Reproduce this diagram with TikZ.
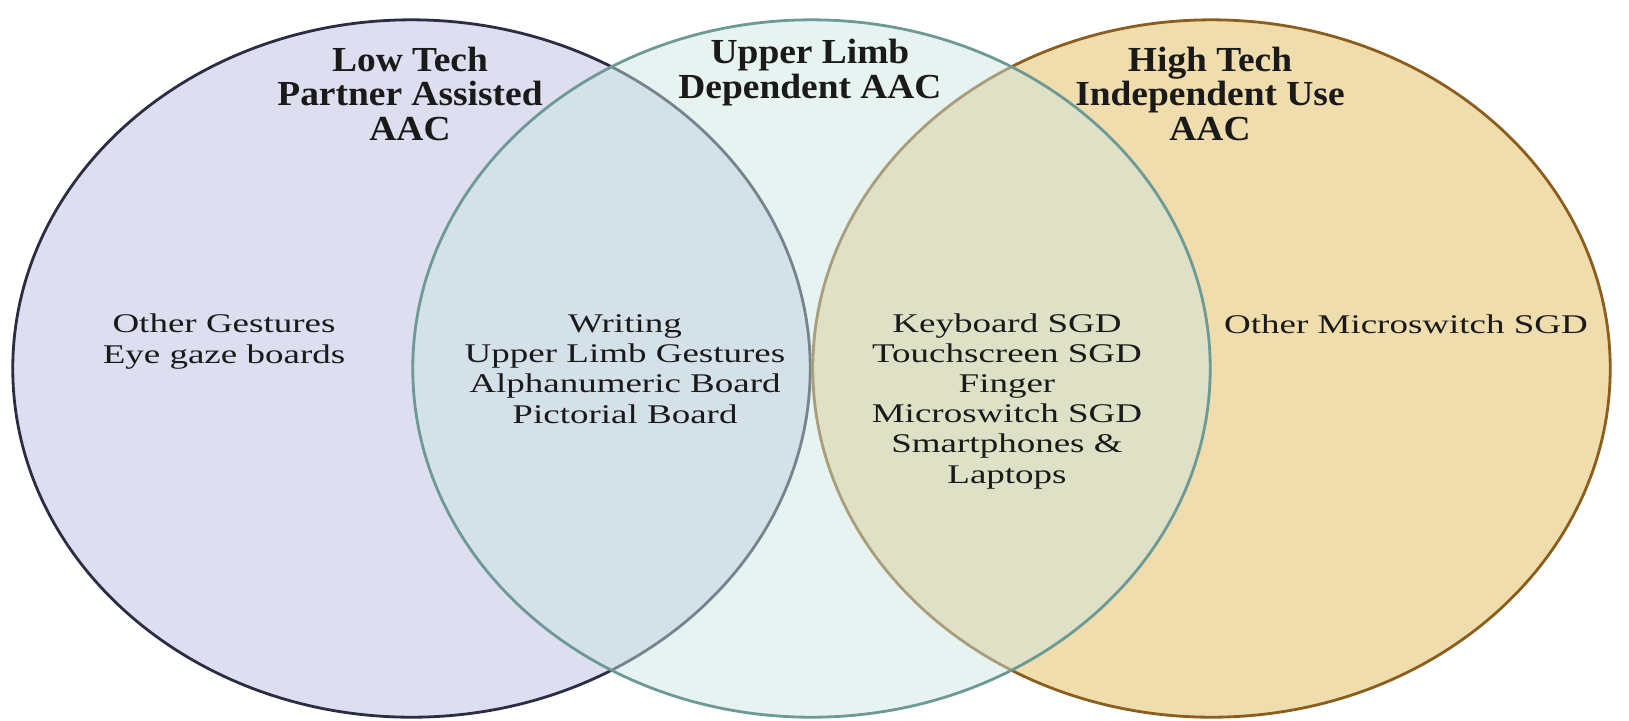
\documentclass[tikz,border=0pt]{standalone}
\usepackage{fontspec}
\setmainfont{Liberation Serif}
\newfontfamily\bodyfont[FakeStretch=1.37]{Liberation Serif}
\newfontfamily\headfont[FakeStretch=1.065]{Liberation Serif}
\usetikzlibrary{shapes.geometric}
\definecolor{vnInk}{HTML}{1A1A1A}
\definecolor{vnLowFill}{RGB}{221,222,239}
\definecolor{vnLowLine}{HTML}{2B2D45}
\definecolor{vnUpFill}{RGB}{204,230,225}
\definecolor{vnUpLine}{HTML}{6D9A95}
\definecolor{vnHighFill}{RGB}{240,221,174}
\definecolor{vnHighLine}{HTML}{8B5E1E}
\tikzset{
  set/.style={
    ellipse, inner sep=0pt, line width=0.8pt,
    minimum width=7.97cm, minimum height=6.97cm
  },
  lowset/.style={set, draw=vnLowLine, fill=vnLowFill},
  highset/.style={set, draw=vnHighLine, fill=vnHighFill},
  upset/.style={set, draw=vnUpLine, fill=vnUpFill, fill opacity=0.47},
  head/.style={
    anchor=base, align=center, inner sep=0pt, text=vnInk,
    font=\headfont\bfseries\fontsize{10pt}{9.8pt}\selectfont
  },
  item/.style={
    anchor=base, align=center, inner sep=0pt, text=vnInk,
    font=\bodyfont\fontsize{7.68pt}{8.54pt}\selectfont
  },
}
\begin{document}
\begin{tikzpicture}[x=0.01cm, y=-0.01cm]
  \useasboundingbox (0,0) rectangle (1629,720);
  % the three sets
  \node[lowset] (lowtech) at (411.5,368.5) {};
  \node[highset] (hightech) at (1211.5,368.5) {};
  \node[upset] (uplimb) at (811.5,368.5) {};

  % set titles (anchored on their last line)
  \node[head] (lowT) at (410,140) {Low Tech\\Partner Assisted\\AAC};
  \node[head] (upT) at (810,98) {Upper Limb\\Dependent AAC};
  \node[head] (highT) at (1210,140) {High Tech\\Independent Use\\AAC};

  % members
  \node[item] (lowonly) at (224,363) {Other Gestures\\Eye gaze boards};
  \node[item] (lowup) at (625,423)
    {Writing\\Upper Limb Gestures\\Alphanumeric Board\\Pictorial Board};
  \node[item] (uphigh) at (1007,483)
    {Keyboard SGD\\Touchscreen SGD\\Finger\\Microswitch SGD\\Smartphones \&\\Laptops};
  \node[item] (highonly) at (1406,333) {Other Microswitch SGD};
\end{tikzpicture}
\end{document}
